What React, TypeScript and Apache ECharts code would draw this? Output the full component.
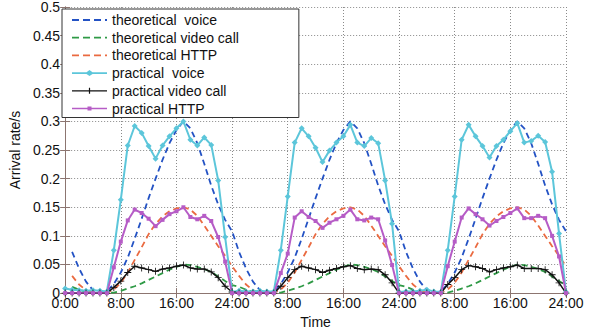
import React, { useEffect, useRef } from "react";
import * as echarts from "echarts";

const xTickLabels = ["0:00", "8:00", "16:00", "24:00", "8:00", "16:00", "24:00", "8:00", "16:00", "24:00"];
const yTickLabels = ["0", "0.05", "0.1", "0.15", "0.2", "0.25", "0.3", "0.35", "0.4", "0.45", "0.5"];

const seriesNames = [
  "theoretical  voice",
  "theoretical video call",
  "theoretical HTTP",
  "practical  voice",
  "practical video call",
  "practical HTTP",
];

// values per hour, index = hour (0..72)
const theoreticalVoice = [
  null,
  0.072, 0.043, 0.02, 0.005, 0, 0.003, 0.016, 0.036, 0.062, 0.095, 0.13, 0.166, 0.2, 0.233, 0.262, 0.285, 0.3, 0.288, 0.262, 0.226, 0.188, 0.155, 0.128, 0.108,
  0.072, 0.043, 0.02, 0.005, 0, 0.003, 0.016, 0.036, 0.062, 0.095, 0.13, 0.166, 0.2, 0.233, 0.262, 0.285, 0.3, 0.288, 0.262, 0.226, 0.188, 0.155, 0.128, 0.108,
  0.072, 0.043, 0.02, 0.005, 0, 0.003, 0.016, 0.036, 0.062, 0.095, 0.13, 0.166, 0.2, 0.233, 0.262, 0.285, 0.3, 0.288, 0.262, 0.226, 0.188, 0.155, 0.128, 0.108,
];
const theoreticalVideo = [
  null,
  0.011, 0.006, 0.002, 0, 0, 0, 0.001, 0.004, 0.008, 0.012, 0.017, 0.023, 0.029, 0.035, 0.041, 0.046, 0.05, 0.049, 0.046, 0.042, 0.037, 0.029, 0.021, 0.014,
  0.011, 0.006, 0.002, 0, 0, 0, 0.001, 0.004, 0.008, 0.012, 0.017, 0.023, 0.029, 0.035, 0.041, 0.046, 0.05, 0.049, 0.046, 0.042, 0.037, 0.029, 0.021, 0.014,
  0.011, 0.006, 0.002, 0, 0, 0, 0.001, 0.004, 0.008, 0.012, 0.017, 0.023, 0.029, 0.035, 0.041, 0.046, 0.05, 0.049, 0.046, 0.042, 0.037, 0.029, 0.021, 0.014,
];
const theoreticalHttp = [
  null,
  0.03, 0.015, 0.005, 0.001, 0, 0.001, 0.006, 0.018, 0.036, 0.058, 0.08, 0.103, 0.121, 0.134, 0.143, 0.148, 0.15, 0.146, 0.135, 0.118, 0.1, 0.082, 0.065, 0.047,
  0.03, 0.015, 0.005, 0.001, 0, 0.001, 0.006, 0.018, 0.036, 0.058, 0.08, 0.103, 0.121, 0.134, 0.143, 0.148, 0.15, 0.146, 0.135, 0.118, 0.1, 0.082, 0.065, 0.047,
  0.03, 0.015, 0.005, 0.001, 0, 0.001, 0.006, 0.018, 0.036, 0.058, 0.08, 0.103, 0.121, 0.134, 0.143, 0.148, 0.15, 0.146, 0.135, 0.118, 0.1, 0.082, 0.065, 0.047,
];
const practicalVoice = [
  0.008, 0.006, 0.005, 0.004, 0.005, 0.004, 0.003,
  0.075, 0.163, 0.258, 0.292, 0.28, 0.257, 0.235, 0.258, 0.274, 0.288, 0.3, 0.268, 0.258, 0.272, 0.259, 0.197, 0.098, 0.002,
  0.004, 0.003, 0.003, 0.004, 0.003, 0.003,
  0.075, 0.169, 0.263, 0.288, 0.274, 0.254, 0.229, 0.249, 0.263, 0.274, 0.294, 0.263, 0.257, 0.271, 0.262, 0.197, 0.121, 0.002,
  0.003, 0.003, 0.004, 0.006, 0.003, 0.002,
  0.075, 0.169, 0.268, 0.294, 0.274, 0.257, 0.237, 0.257, 0.268, 0.283, 0.297, 0.263, 0.266, 0.275, 0.264, 0.212, 0.104, 0.002,
];
const practicalVideo = [
  0, 0, 0, 0, 0, 0, 0,
  0.01, 0.021, 0.036, 0.047, 0.044, 0.041, 0.038, 0.042, 0.044, 0.047, 0.049, 0.044, 0.042, 0.042, 0.037, 0.027, 0.012, 0.002,
  0, 0, 0, 0, 0, 0,
  0.012, 0.027, 0.041, 0.047, 0.044, 0.041, 0.036, 0.04, 0.043, 0.046, 0.048, 0.043, 0.041, 0.042, 0.041, 0.032, 0.018, 0,
  0, 0, 0, 0, 0, 0,
  0.015, 0.027, 0.041, 0.048, 0.046, 0.043, 0.037, 0.041, 0.044, 0.046, 0.049, 0.043, 0.043, 0.043, 0.041, 0.032, 0.018, 0,
];
const practicalHttp = [
  0, 0, 0, 0, 0, 0, 0,
  0.045, 0.09, 0.127, 0.146, 0.14, 0.13, 0.117, 0.128, 0.138, 0.143, 0.15, 0.133, 0.129, 0.135, 0.126, 0.098, 0.055, 0,
  0, 0, 0, 0, 0, 0,
  0.035, 0.069, 0.132, 0.143, 0.133, 0.126, 0.114, 0.123, 0.129, 0.135, 0.146, 0.129, 0.127, 0.132, 0.129, 0.092, 0.049, 0,
  0, 0, 0, 0, 0, 0,
  0.047, 0.09, 0.132, 0.148, 0.138, 0.129, 0.118, 0.126, 0.133, 0.14, 0.148, 0.131, 0.131, 0.135, 0.131, 0.1, 0.064, 0,
];

const FONT = "'Liberation Sans', Arial, Helvetica, sans-serif";
const PLUS = "path://M4.4,0 H5.6 V4.4 H10 V5.6 H5.6 V10 H4.4 V5.6 H0 V4.4 H4.4 Z";

// legend glyphs (line sample with marker), drawn as filled shapes
const ICON_DASH = "path://M0,0 H7 V1.8 H0 Z M11,0 H18 V1.8 H11 Z M22,0 H29 V1.8 H22 Z M33,0 H35 V1.8 H33 Z";
const ICON_DIAMOND = "path://M0,2.2 H14.5 L17.5,0 L20.5,2.2 H35 V3.8 H20.5 L17.5,6 L14.5,3.8 H0 Z";
const ICON_PLUS = "path://M0,2.4 H16.9 V0 H18.1 V2.4 H35 V3.6 H18.1 V6 H16.9 V3.6 H0 Z";
const ICON_SQUARE = "path://M0,2.2 H15.5 V1 H19.5 V2.2 H35 V3.8 H19.5 V5 H15.5 V3.8 H0 Z";
const legendIcons = [ICON_DASH, ICON_DASH, ICON_DASH, ICON_DIAMOND, ICON_PLUS, ICON_SQUARE];

const toPairs = (arr: (number | null)[]) => arr.map((v, i) => [i, v]);

export default function App() {
  const ref = useRef<HTMLDivElement>(null);
  useEffect(() => {
    if (!ref.current) return;
    const chart = echarts.init(ref.current, null, { renderer: "svg" });
    const axisColor = "#8c7570";
    const gridColor = "#8a8a8a";
    const dashed = (color: string, name: string, data: (number | null)[]) => ({
      name,
      type: "line",
      data: toPairs(data),
      symbol: "none",
      showSymbol: false,
      lineStyle: { color, width: 1.8, type: [6, 4] },
      itemStyle: { color },
      z: 2,
    });
    const solid = (color: string, name: string, data: (number | null)[], symbol: string, size: number, width: number) => ({
      name,
      type: "line",
      data: toPairs(data),
      symbol,
      symbolSize: size,
      showSymbol: true,
      lineStyle: { color, width },
      itemStyle: { color, borderWidth: 0 },
      z: 3,
    });
    chart.setOption({
      animation: false,
      backgroundColor: "#ffffff",
      textStyle: { fontFamily: FONT },
      grid: { left: 60, right: 32, top: 6, bottom: 35 },
      legend: {
        orient: "vertical",
        left: 62,
        top: 9,
        itemWidth: 35,
        itemHeight: 14,
        itemGap: 3.7,
        padding: [4, 60, 2, 10],
        borderColor: "#333",
        borderWidth: 1,
        backgroundColor: "#ffffff",
        textStyle: { fontSize: 14, color: "#111", fontFamily: FONT },
        data: seriesNames.map((name, i) => ({ name, icon: legendIcons[i] })),
        z: 10,
      },
      xAxis: [
        {
          type: "value",
          min: 0,
          max: 72,
          interval: 8,
          name: "Time",
          nameLocation: "middle",
          nameGap: 19,
          nameTextStyle: { fontSize: 14, color: "#111", fontFamily: FONT, verticalAlign: "top" },
          axisLine: { show: true, lineStyle: { color: axisColor, width: 1 } },
          axisTick: { show: true, inside: true, length: 5, lineStyle: { color: axisColor } },
          axisLabel: {
            fontSize: 14,
            color: "#111",
            margin: 3,
            fontFamily: FONT,
            formatter: (v: number) => xTickLabels[Math.round(v / 8)] ?? "",
          },
          splitLine: { show: true, lineStyle: { color: gridColor, type: [1, 2], width: 1 } },
        },
        {
          type: "value",
          position: "top",
          min: 0,
          max: 72,
          interval: 8,
          axisLine: { show: true, lineStyle: { color: axisColor, width: 1 } },
          axisTick: { show: true, inside: true, length: 5, lineStyle: { color: axisColor } },
          axisLabel: { show: false },
          splitLine: { show: false },
        },
      ],
      yAxis: [
        {
          type: "value",
          min: 0,
          max: 0.5,
          interval: 0.05,
          name: "Arrival rate/s",
          nameLocation: "middle",
          nameGap: 34,
          nameRotate: 90,
          nameTextStyle: { fontSize: 14, color: "#111", fontFamily: FONT },
          axisLine: { show: true, lineStyle: { color: axisColor, width: 1 } },
          axisTick: { show: true, inside: true, length: 5, lineStyle: { color: axisColor } },
          axisLabel: {
            fontSize: 14,
            color: "#111",
            margin: 5,
            fontFamily: FONT,
            formatter: (v: number) => yTickLabels[Math.round(v / 0.05)] ?? "",
          },
          splitLine: { show: true, lineStyle: { color: gridColor, type: [1, 2], width: 1 } },
        },
        {
          type: "value",
          position: "right",
          min: 0,
          max: 0.5,
          interval: 0.05,
          axisLine: { show: true, lineStyle: { color: axisColor, width: 1 } },
          axisTick: { show: true, inside: true, length: 5, lineStyle: { color: axisColor } },
          axisLabel: { show: false },
          splitLine: { show: false },
        },
      ],
      series: [
        dashed("#2352c4", seriesNames[0], theoreticalVoice),
        dashed("#2f9a46", seriesNames[1], theoreticalVideo),
        dashed("#ea6a40", seriesNames[2], theoreticalHttp),
        solid("#5cc6da", seriesNames[3], practicalVoice, "diamond", 6, 2),
        solid("#111111", seriesNames[4], practicalVideo, PLUS, 7, 1.5),
        solid("#b65cc6", seriesNames[5], practicalHttp, "rect", 4, 2),
      ],
    });
    return () => chart.dispose();
  }, []);
  return (
    <div
      ref={ref}
      style={{ position: "fixed", left: 0, top: 0, width: 598, height: 334, background: "#fff" }}
    />
  );
}
